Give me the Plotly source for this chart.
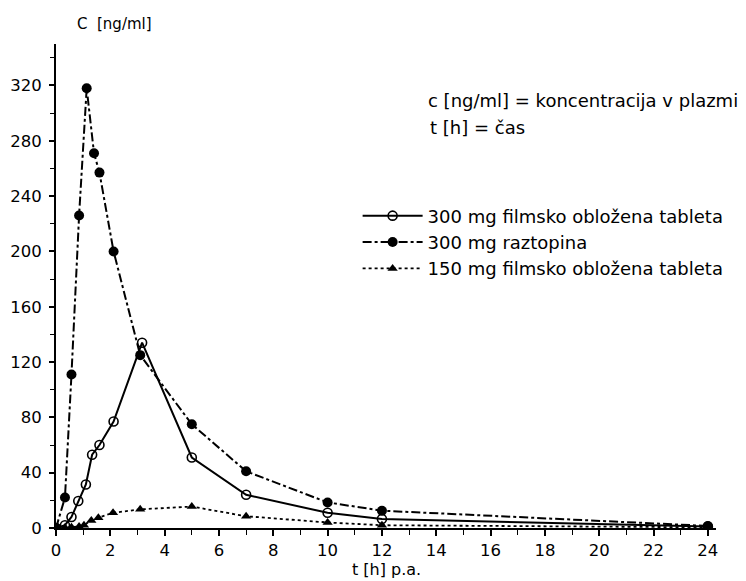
import plotly.graph_objects as go

# Data
t_sol = [0, 0.33, 0.57, 0.85, 1.13, 1.4, 1.6, 2.12, 3.1, 5, 7, 10, 12, 24]
c_sol = [0, 22, 111, 226, 318, 271, 257, 200, 125, 75, 41, 18.5, 12.5, 1.5]

t_tab300 = [0, 0.33, 0.57, 0.82, 1.1, 1.33, 1.6, 2.12, 3.17, 5, 7, 10, 12, 24]
c_tab300 = [0, 2, 8, 19.5, 31.5, 53, 60, 77, 134, 51, 24, 11, 6.5, 1]

t_tab150 = [0, 0.33, 0.57, 0.85, 1.03, 1.3, 1.56, 2.1, 3.1, 5, 7, 10, 12, 24]
c_tab150 = [0, 0.3, 0.6, 1, 2, 5.5, 7.5, 11, 13.5, 15.5, 8.5, 4, 2, 0.5]

names = ["300 mg filmsko obložena tableta", "300 mg raztopina", "150 mg filmsko obložena tableta"]
x_ticks = list(range(0, 25, 2))
y_ticks = list(range(0, 321, 40))

FONT = "DejaVu Sans, Verdana, sans-serif"

fig = go.Figure()
fig.add_trace(go.Scatter(
    x=t_tab300, y=c_tab300, name=names[0], mode="lines+markers",
    line=dict(color="black", width=2, dash="solid"),
    marker=dict(symbol="circle-open", size=9, color="black", line=dict(width=1.6)),
))
fig.add_trace(go.Scatter(
    x=t_sol, y=c_sol, name=names[1], mode="lines+markers",
    line=dict(color="black", width=2, dash="dashdot"),
    marker=dict(symbol="circle", size=10, color="black"),
))
fig.add_trace(go.Scatter(
    x=t_tab150, y=c_tab150, name=names[2], mode="lines+markers",
    line=dict(color="black", width=1.8, dash="dot"),
    marker=dict(symbol="triangle-up", size=9, color="black"),
))

fig.update_layout(
    width=746, height=581,
    margin=dict(l=48, r=38, t=36, b=61),
    paper_bgcolor="white", plot_bgcolor="white",
    font=dict(family=FONT, size=16, color="black"),
    showlegend=True,
    legend=dict(
        x=0.457, y=0.683, xanchor="left", yanchor="top",
        font=dict(family=FONT, size=18, color="black"),
        itemwidth=60,
        bgcolor="rgba(0,0,0,0)",
    ),
    xaxis=dict(
        range=[0, 24.3], tickvals=x_ticks, ticktext=[str(v) for v in x_ticks],
        showgrid=False, zeroline=False, showline=True, linecolor="black", linewidth=2,
        ticks="outside", ticklen=6, tickwidth=1.5, tickcolor="black",
        minor=dict(dtick=1, tick0=0, ticks="outside", ticklen=5, tickwidth=1.2, tickcolor="black"),
        tickfont=dict(size=16.5), automargin=False,
    ),
    yaxis=dict(
        range=[0, 350], tickvals=y_ticks, ticktext=[str(v) for v in y_ticks],
        showgrid=False, zeroline=False, showline=True, linecolor="black", linewidth=2,
        ticks="outside", ticklen=5, tickwidth=1.5, tickcolor="black",
        minor=dict(dtick=20, tick0=0, ticks="outside", ticklen=4, tickwidth=1.2, tickcolor="black"),
        tickfont=dict(size=16.5), automargin=False, ticklabelstandoff=4,
    ),
)

fig.add_annotation(xref="paper", yref="paper", x=0.5, y=-0.085, yanchor="middle", xanchor="center",
                   text="t [h] p.a.", showarrow=False, font=dict(size=16))
fig.add_annotation(xref="paper", yref="paper", x=0.029, y=1.041, yanchor="middle", xanchor="left",
                   text="C  [ng/ml]", showarrow=False, font=dict(size=15))
fig.add_annotation(xref="paper", yref="paper", x=0.561, y=0.884, xanchor="left", yanchor="middle",
                   text="c [ng/ml] = koncentracija v plazmi", showarrow=False, font=dict(size=18))
fig.add_annotation(xref="paper", yref="paper", x=0.564, y=0.828, xanchor="left", yanchor="middle",
                   text="t [h] = čas", showarrow=False, font=dict(size=18))

fig.write_html("out.html")
